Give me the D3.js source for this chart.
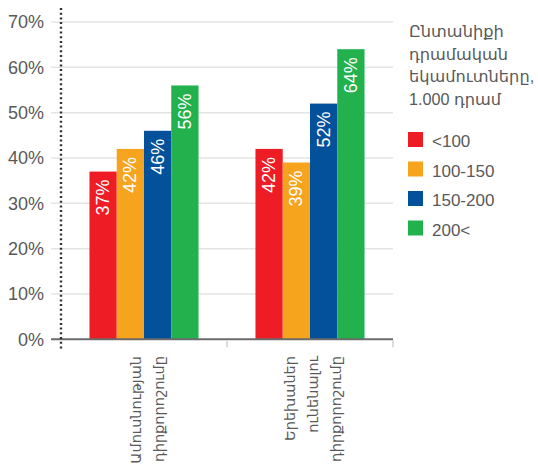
<!DOCTYPE html>
<html>
<head>
<meta charset="utf-8">
<script src="https://cdn.jsdelivr.net/npm/d3@7/dist/d3.min.js"></script>
<style>
  html, body { margin: 0; padding: 0; background: #fff; }
  svg { display: block; font-family: "Liberation Sans", Arial, "DejaVu Sans", sans-serif; }
</style>
</head>
<body>
<svg id="chart" width="538" height="471"></svg>
<script>
// Household income groups (thousand AMD) and share per attitude question
const categories = [
  ["Ամուսնության", "դիրքորոշումը"],
  ["Երեխաներ", "ունենալու", "դիրքորոշումը"]
];
const seriesNames = ["<100", "100-150", "150-200", "200<"];
const seriesColors = ["#ee1c25", "#f6a31e", "#03519b", "#22b14c"];
const values = [
  [37, 42, 46, 56],
  [42, 39, 52, 64]
];
const yTicks = [0, 10, 20, 30, 40, 50, 60, 70];
const legendTitle = ["Ընտանիքի", "դրամական", "եկամուտները,", "1.000 դրամ"];

const svg = d3.select("#chart");
const catKeys = categories.map((c, i) => i);

const plot = { left: 61, right: 393, top: 22, bottom: 339.3 };

const y = d3.scaleLinear().domain([0, 70]).range([plot.bottom, plot.top]);
const x0 = d3.scaleBand().domain(catKeys).range([plot.left, plot.right])
  .paddingInner(0.343).paddingOuter(0.1715);
const x1 = d3.scaleBand().domain(d3.range(seriesNames.length)).range([0, x0.bandwidth()]);

// horizontal gridlines
svg.append("g").selectAll("line").data(yTicks.filter(d => d > 0)).join("line")
  .attr("x1", 51).attr("x2", plot.right)
  .attr("y1", d => y(d)).attr("y2", d => y(d))
  .attr("stroke", "#e4e4e4").attr("stroke-width", 1.5);

// y tick labels
const yAxis = svg.append("g").attr("transform", `translate(51,0)`)
  .call(d3.axisLeft(y).tickValues(yTicks).tickFormat(d => d + "%").tickSize(0).tickPadding(7));
yAxis.select(".domain").remove();
yAxis.selectAll("text").attr("fill", "#595959").attr("font-size", 18)
  .attr("font-family", "\"Liberation Sans\", Arial, sans-serif");

// bars
const groups = svg.append("g").selectAll("g").data(values).join("g")
  .attr("transform", (d, i) => `translate(${x0(i)},0)`);

groups.selectAll("rect").data(d => d).join("rect")
  .attr("x", (d, j) => x1(j))
  .attr("width", x1.bandwidth())
  .attr("y", d => y(d))
  .attr("height", d => y(0) - y(d))
  .attr("fill", (d, j) => seriesColors[j]);

groups.selectAll("text").data(d => d).join("text")
  .attr("transform", (d, j) => `translate(${x1(j) + x1.bandwidth() / 2},${y(d) + 8}) rotate(-90)`)
  .attr("text-anchor", "end")
  .attr("dominant-baseline", "central")
  .attr("fill", "#fff")
  .attr("font-size", 18)
  .text(d => d + "%");

// baseline
svg.append("line")
  .attr("x1", 51).attr("x2", plot.right)
  .attr("y1", y(0)).attr("y2", y(0))
  .attr("stroke", "#6b6b6b").attr("stroke-width", 2);

// category separators below the baseline
const sepX = [x0(0) + x0.bandwidth() + (x0.step() - x0.bandwidth()) / 2, plot.right];
svg.append("g").selectAll("line").data(sepX).join("line")
  .attr("x1", d => d).attr("x2", d => d)
  .attr("y1", y(0) + 1).attr("y2", y(0) + 8)
  .attr("stroke", "#dcdcdc").attr("stroke-width", 2);

// dotted vertical axis
svg.append("line")
  .attr("x1", plot.left).attr("x2", plot.left)
  .attr("y1", 8).attr("y2", 351)
  .attr("stroke", "#333").attr("stroke-width", 2.4)
  .attr("stroke-dasharray", "2,2.7");

// category labels, rotated
const lineGap = 23;
categories.forEach((lines, i) => {
  const cx = x0(i) + x0.bandwidth() / 2 + 3;
  lines.forEach((t, k) => {
    const lx = cx + (k - (lines.length - 1) / 2) * lineGap;
    svg.append("text")
      .attr("transform", `translate(${lx},356) rotate(-90)`)
      .attr("text-anchor", "end")
      .attr("dominant-baseline", "central")
      .attr("fill", "#595959")
      .attr("font-size", 14.5)
      .text(t);
  });
});

// legend
const legend = svg.append("g").attr("transform", "translate(408,0)");
legend.selectAll("text.title").data(legendTitle).join("text")
  .attr("class", "title")
  .attr("x", 1).attr("y", (d, i) => 37 + i * 22.5)
  .attr("fill", "#595959").attr("font-size", 16.2)
  .text(d => d);

const items = legend.selectAll("g.item").data(seriesNames).join("g")
  .attr("class", "item")
  .attr("transform", (d, i) => `translate(0,${132 + i * 29.5})`);
items.append("rect").attr("width", 15).attr("height", 15)
  .attr("fill", (d, i) => seriesColors[i]);
items.append("text").attr("x", 24).attr("y", 15)
  .attr("fill", "#595959").attr("font-size", 17)
  .text(d => d);
</script>
</body>
</html>
